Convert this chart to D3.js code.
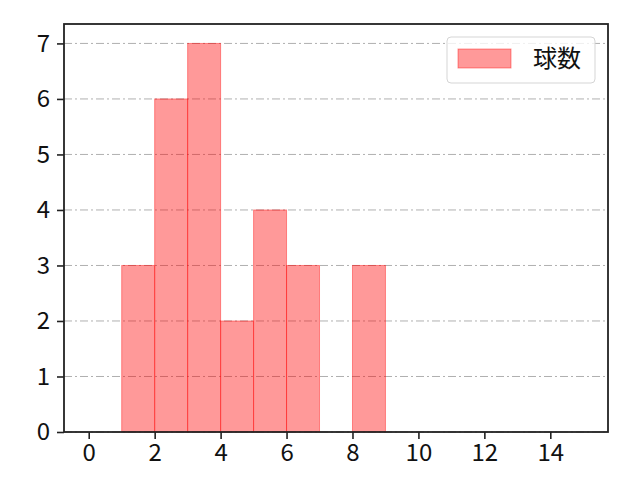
<!DOCTYPE html>
<html>
<head>
<meta charset="utf-8">
<script src="https://cdn.jsdelivr.net/npm/d3@7"></script>
<style>
  body { margin: 0; background: #fff; }
  svg { display: block; }
  svg text { font-family: "Noto Sans CJK JP", "DejaVu Sans", sans-serif; }
</style>
</head>
<body>
<svg width="640" height="480"></svg>
<script>
const width = 640;
const height = 480;

// histogram bins (left edges, width 1) and counts
var binStarts = [0, 1, 2, 3, 4, 5, 6, 7, 8, 9, 10, 11, 12, 13, 14];
var counts    = [0, 3, 6, 7, 2, 4, 3, 0, 3, 0, 0, 0, 0, 0, 0];
var xTicks = [0, 2, 4, 6, 8, 10, 12, 14];
var yTicks = [0, 1, 2, 3, 4, 5, 6, 7];
var seriesName = "球数";

var margin = {left: 64, right: 32, top: 24, bottom: 48};

var svg = d3.select("svg");

var x = d3.scaleLinear()
    .domain([-0.75, 15.75])
    .range([margin.left, width - margin.right]);

var y = d3.scaleLinear()
    .domain([0, 7.35])
    .range([height - margin.bottom, margin.top]);

// grid lines (y only, dash-dot)
svg.append("g")
    .selectAll("line")
    .data(yTicks)
    .join("line")
    .attr("x1", margin.left)
    .attr("x2", width - margin.right)
    .attr("y1", function (d) { return y(d); })
    .attr("y2", function (d) { return y(d); })
    .attr("stroke", "#b0b0b0")
    .attr("stroke-width", 1)
    .attr("stroke-dasharray", "8,3,2,3");

// bars
var bins = binStarts.map(function (b, i) { return {x0: b, x1: b + 1, n: counts[i]}; })
    .filter(function (d) { return d.n > 0; });

svg.append("g")
    .selectAll("rect")
    .data(bins)
    .join("rect")
    .attr("x", function (d) { return x(d.x0); })
    .attr("width", function (d) { return x(d.x1) - x(d.x0); })
    .attr("y", function (d) { return y(d.n); })
    .attr("height", function (d) { return y(0) - y(d.n); })
    .attr("fill", "red")
    .attr("fill-opacity", 0.4)
    .attr("stroke", "red")
    .attr("stroke-opacity", 0.4)
    .attr("stroke-width", 1);

// axes
var xAxis = svg.append("g")
    .attr("transform", "translate(0," + (height - margin.bottom) + ")")
    .call(d3.axisBottom(x).tickValues(xTicks).tickSize(7).tickPadding(5).tickSizeOuter(0));

var yAxis = svg.append("g")
    .attr("transform", "translate(" + margin.left + ",0)")
    .call(d3.axisLeft(y).tickValues(yTicks).tickSize(7).tickPadding(7).tickSizeOuter(0));

[xAxis, yAxis].forEach(function (a) {
    a.attr("font-family", null);
    a.select(".domain").remove();
    a.selectAll(".tick line").attr("stroke", "#222").attr("stroke-width", 1.6);
    a.selectAll(".tick text").attr("fill", "#111").style("font-size", "24px");
});

// frame
svg.append("rect")
    .attr("x", margin.left)
    .attr("y", margin.top)
    .attr("width", width - margin.left - margin.right)
    .attr("height", height - margin.top - margin.bottom)
    .attr("fill", "none")
    .attr("stroke", "#222")
    .attr("stroke-width", 1.8);

// legend
var legend = svg.append("g").attr("transform", "translate(447,37)");
legend.append("rect")
    .attr("width", 148)
    .attr("height", 46)
    .attr("rx", 4)
    .attr("fill", "#fff")
    .attr("fill-opacity", 0.8)
    .attr("stroke", "#d5d5d5");
legend.append("rect")
    .attr("x", 11)
    .attr("y", 12)
    .attr("width", 53)
    .attr("height", 19)
    .attr("fill", "red")
    .attr("fill-opacity", 0.4)
    .attr("stroke", "red")
    .attr("stroke-opacity", 0.4);
legend.append("text")
    .attr("x", 86)
    .attr("y", 22)
    .attr("dy", "0.35em")
    .attr("fill", "#111")
    .style("font-size", "24px")
    .text(seriesName);
</script>
</body>
</html>
